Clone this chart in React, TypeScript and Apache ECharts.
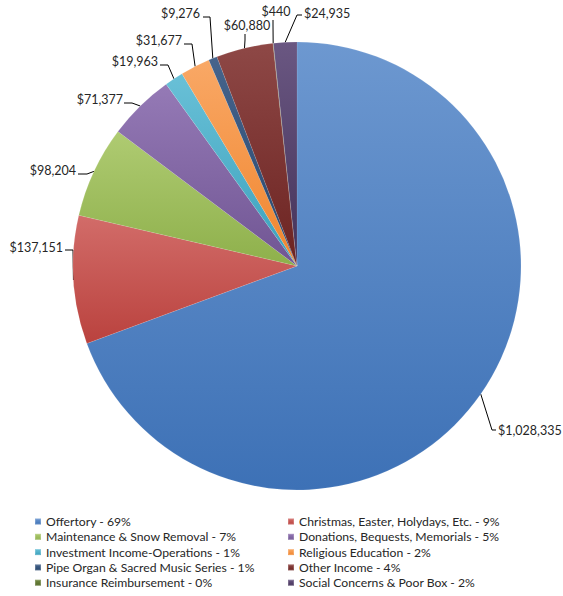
import React, { useEffect, useRef } from "react";
import * as echarts from "echarts";

const categories = [
  "Offertory",
  "Christmas, Easter, Holydays, Etc.",
  "Maintenance & Snow Removal",
  "Donations, Bequests, Memorials",
  "Investment Income-Operations",
  "Religious Education",
  "Pipe Organ & Sacred Music Series",
  "Other Income",
  "Insurance Reimbursement",
  "Social Concerns & Poor Box",
];
const values = [1028335, 137151, 98204, 71377, 19963, 31677, 9276, 60880, 440, 24935];
const colors = [
  ["#6d98d0", "#3d71b6"],
  ["#d26c69", "#ba423e"],
  ["#afcb72", "#8eb04b"],
  ["#957ab6", "#705593"],
  ["#69c0d7", "#3ba1bc"],
  ["#f9a866", "#f0852d"],
  ["#46648c", "#27466d"],
  ["#8e4846", "#6c2321"],
  ["#718842", "#556b29"],
  ["#6a5782", "#443259"],
];

// label layout (text anchor, alignment, leader-line bend points)
const labelSpec: { x: number; y: number; align: string; pts: number[][] }[] = [
  { x: 498, y: 430, align: "left", pts: [[492, 430], [496, 430]] },
  { x: 63, y: 247, align: "right", pts: [[73, 250], [65, 250]] },
  { x: 76, y: 170, align: "right", pts: [[87, 174], [78, 174]] },
  { x: 123, y: 99, align: "right", pts: [[132, 103], [124, 103]] },
  { x: 158, y: 61, align: "right", pts: [[168, 65], [160, 65]] },
  { x: 182, y: 40, align: "right", pts: [[192, 44], [184, 44]] },
  { x: 200, y: 13, align: "right", pts: [[210, 17], [203, 17]] },
  { x: 247, y: 25, align: "center", pts: [[245, 40], [245, 34]] },
  { x: 276, y: 11, align: "center", pts: [[273, 25], [273, 20]] },
  { x: 304, y: 13, align: "left", pts: [[297, 15], [302, 15]] },
];

const total = values.reduce((a, b) => a + b, 0);
const fmt = (v: number) => "$" + v.toLocaleString("en-US");
const pct = (name: string) => {
  const i = categories.indexOf(name);
  return Math.round((values[i] / total) * 100);
};

export default function App() {
  const ref = useRef<HTMLDivElement>(null);
  useEffect(() => {
    const chart = echarts.init(ref.current!, null, { renderer: "svg" });
    const legendText = {
      fontFamily: "Lato",
      fontSize: 12.2,
      lineHeight: 15,
      color: "#262626",
    };
    const legendBase = {
      orient: "vertical",
      top: 514,
      padding: 0,
      itemWidth: 6,
      itemHeight: 6,
      itemGap: 0.3,
      icon: "rect",
      textStyle: legendText,
      formatter: (n: string) => `${n} - ${pct(n)}%`,
      selectedMode: false,
    };
    chart.setOption({
      animation: false,
      legend: [
        { ...legendBase, left: 34, data: categories.filter((_, i) => i % 2 === 0) },
        { ...legendBase, left: 287, data: categories.filter((_, i) => i % 2 === 1) },
      ],
      series: [
        {
          type: "pie",
          center: [297, 266],
          radius: [0, 224],
          startAngle: 90,
          clockwise: true,
          avoidLabelOverlap: false,
          label: {
            show: true,
            position: "outside",
            overflow: "none",
            formatter: (p: any) => fmt(p.value),
            fontFamily: "Lato",
            fontSize: 12.5,
            color: "#262626",
          },
          labelLine: {
            show: true,
            length: 12,
            length2: 6,
            lineStyle: { color: "#000", width: 1 },
          },
          labelLayout: (p: any) => {
            const s = labelSpec[p.dataIndex];
            const edge = p.labelLinePoints ? p.labelLinePoints[0] : s.pts[0];
            return {
              x: s.x,
              y: s.y,
              align: s.align,
              verticalAlign: "middle",
              labelLinePoints: [edge, s.pts[0], s.pts[1]],
            };
          },
          itemStyle: { borderColor: "rgba(255,255,255,0.2)", borderWidth: 0.5 },
          data: categories.map((name, i) => ({
            name,
            value: values[i],
            itemStyle: {
              color: new echarts.graphic.LinearGradient(0, 0, 0, 1, [
                { offset: 0, color: colors[i][0] },
                { offset: 1, color: colors[i][1] },
              ]),
            },
          })),
        },
      ],
      color: colors.map((c) => c[1]),
    });
    return () => chart.dispose();
  }, []);
  return (
    <div
      ref={ref}
      style={{ position: "fixed", left: 0, top: 0, width: 563, height: 596, background: "#fff" }}
    />
  );
}
